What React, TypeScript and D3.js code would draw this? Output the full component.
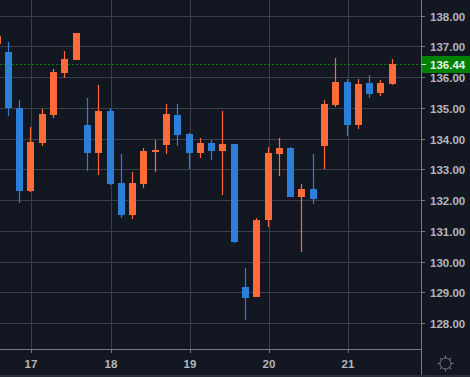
import React from "react";
import * as d3 from "d3";

const opens = [137.07, 136.81, 135.00, 132.30, 133.86, 134.77, 136.13, 136.55, 134.44, 133.53, 134.90, 132.56, 131.52, 132.53, 133.57, 133.79, 134.77, 134.15, 133.53, 133.86, 133.60, 133.83, 129.18, 128.85, 131.36, 133.50, 133.70, 132.10, 132.37, 133.76, 135.09, 135.84, 134.44, 135.81, 135.48, 135.78];
const closes = [137.33, 135.00, 132.30, 133.89, 134.80, 136.17, 136.59, 137.43, 133.53, 134.90, 132.53, 131.52, 132.56, 133.60, 133.63, 134.80, 134.12, 133.53, 133.86, 133.60, 133.83, 130.64, 128.82, 131.36, 133.53, 133.70, 132.10, 132.37, 132.04, 135.13, 135.84, 134.44, 135.78, 135.45, 135.81, 136.44];
const highs = [137.33, 137.14, 135.26, 134.38, 134.96, 136.26, 136.85, 137.43, 135.32, 135.74, 135.00, 133.50, 132.92, 133.70, 133.96, 135.13, 135.13, 134.18, 134.02, 133.96, 134.90, 133.83, 129.80, 131.42, 133.73, 134.02, 133.73, 132.53, 133.50, 135.26, 136.62, 135.94, 135.94, 136.07, 135.91, 136.59];
const lows = [137.07, 134.74, 131.91, 132.27, 133.76, 134.67, 135.97, 136.55, 132.95, 132.82, 132.49, 131.42, 131.39, 132.40, 132.92, 133.50, 133.76, 133.01, 133.37, 133.31, 132.17, 130.61, 128.11, 128.85, 131.13, 132.79, 132.10, 130.32, 131.88, 133.01, 135.03, 134.09, 134.31, 135.32, 135.39, 135.74];

const firstIndex = -1;
const priceTicks = [138, 137, 136, 135, 134, 133, 132, 131, 130, 129, 128];
const dayLabels = ["17", "18", "19", "20", "21"];
const dayIndexes = [2, 9, 16, 23, 30];
const lastPrice = 136.44;

const BG = "#131722";
const GRID = "#3b3f4a";
const AXIS = "#787b86";
const TEXT = "#b4b6bc";
const UP = "#ff6a39";
const DOWN = "#2b7fd9";
const GREEN = "#008000";

export default function App() {
  const y = d3.scaleLinear().domain([128, 138]).range([323.2, 15.6]);
  const x = d3.scaleLinear().domain([0, 34]).range([8.4, 8.4 + 34 * 11.29]);
  const candlePx = (i: number) => Math.floor(x(i));
  const rowPx = (p: number) => Math.round(y(p));
  const axisX = 421;
  const axisY = 349;
  const font = "'Liberation Sans', Arial, sans-serif";

  const gearAngles = d3.range(0, 360, 45);

  return (
    <svg width={470} height={377} style={{ position: "absolute", left: 0, top: 0, display: "block" }}>
      <rect width={470} height={377} fill={BG} />
      <rect y={375} width={470} height={2} fill="#2a2e39" />

      {priceTicks.map((p) => (
        <line key={p} x1={0} x2={axisX} y1={rowPx(p) + 0.5} y2={rowPx(p) + 0.5} stroke={GRID} />
      ))}
      {dayIndexes.map((d) => (
        <line key={d} x1={candlePx(d) + 1.5} x2={candlePx(d) + 1.5} y1={0} y2={axisY} stroke={GRID} />
      ))}

      <line x1={0} x2={axisX} y1={rowPx(lastPrice) + 0.5} y2={rowPx(lastPrice) + 0.5} stroke={GREEN} strokeDasharray="2 2" />

      {opens.map((o, k) => {
        const i = k + firstIndex;
        const c = closes[k];
        const color = c >= o ? UP : DOWN;
        const cx = candlePx(i);
        const top = rowPx(Math.max(o, c));
        const bottom = rowPx(Math.min(o, c));
        return (
          <g key={k}>
            <rect x={cx - 0.1} y={rowPx(highs[k])} width={1.2} height={Math.max(1, rowPx(lows[k]) - rowPx(highs[k]))} fill={color} />
            <rect x={cx - 3} y={top} width={7} height={Math.max(1, bottom - top)} fill={color} />
          </g>
        );
      })}

      <line x1={axisX + 0.5} x2={axisX + 0.5} y1={0} y2={375} stroke={AXIS} />
      <line x1={0} x2={axisX} y1={axisY + 0.5} y2={axisY + 0.5} stroke={AXIS} />

      {priceTicks.map((p) => (
        <g key={p}>
          <line x1={axisX} x2={axisX + 4} y1={rowPx(p) + 0.5} y2={rowPx(p) + 0.5} stroke={AXIS} />
          <text x={430} y={rowPx(p) + 4.5} fontFamily={font} fontSize={11.5} fontWeight={700} fill={TEXT}>
            {p.toFixed(2)}
          </text>
        </g>
      ))}

      {dayIndexes.map((d, k) => (
        <g key={d}>
          <line x1={candlePx(d) + 1.5} x2={candlePx(d) + 1.5} y1={axisY} y2={axisY + 4} stroke={AXIS} />
          <text x={candlePx(d) + 1} y={368} textAnchor="middle" fontFamily={font} fontSize={11.5} fontWeight={700} fill={TEXT}>
            {dayLabels[k]}
          </text>
        </g>
      ))}

      <rect x={axisX + 1} y={56} width={48} height={17} fill={GREEN} />
      <line x1={axisX + 1} x2={axisX + 5} y1={rowPx(lastPrice) + 0.5} y2={rowPx(lastPrice) + 0.5} stroke="#d8e8d8" />
      <text x={430} y={rowPx(lastPrice) + 4.5} fontFamily={font} fontSize={11.5} fontWeight={700} fill="#e6f2e6">
        {lastPrice.toFixed(2)}
      </text>

      <g transform="translate(445.5,363.5)" stroke={AXIS} fill="none">
        <circle r={5.5} />
        {gearAngles.map((a) => (
          <line key={a} x1={0} x2={0} y1={-5.5} y2={-8} transform={`rotate(${a})`} />
        ))}
      </g>
    </svg>
  );
}
